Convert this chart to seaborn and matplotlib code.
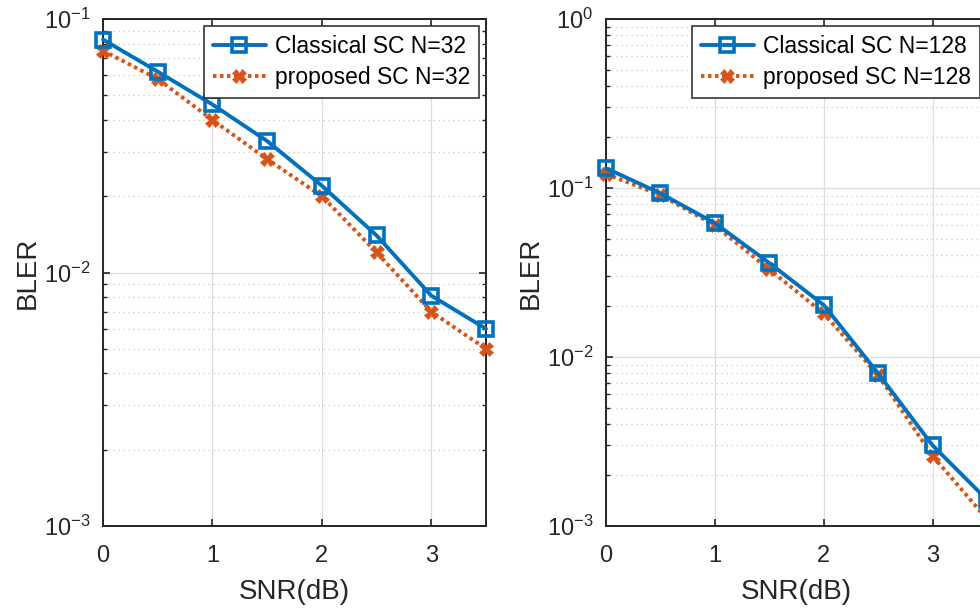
import numpy as np
import pandas as pd
import matplotlib
matplotlib.use("Agg")
import matplotlib.pyplot as plt
import seaborn as sns
from matplotlib.ticker import LogLocator, FixedLocator

# BLER curves
snr = [0, 0.5, 1, 1.5, 2, 2.5, 3, 3.5]
classical_32 = [0.083, 0.062, 0.046, 0.033, 0.022, 0.014, 0.0081, 0.006]
proposed_32 = [0.075, 0.058, 0.040, 0.028, 0.020, 0.012, 0.0070, 0.005]
classical_128 = [0.131, 0.093, 0.062, 0.036, 0.0203, 0.0080, 0.0030, 0.00143]
proposed_128 = [0.121, 0.091, 0.060, 0.033, 0.0181, 0.0078, 0.0026, 0.0011]

blue = "#0072BD"
orange = "#D95319"
axcol = "#262626"

sns.set_style("ticks")
plt.rcParams["font.family"] = ["Liberation Sans", "DejaVu Sans"]
plt.rcParams["mathtext.fontset"] = "custom"
plt.rcParams["mathtext.rm"] = "Liberation Sans"
plt.rcParams["axes.unicode_minus"] = False

fig = plt.figure(figsize=(9.8, 6.08), dpi=100)
ax1 = fig.add_axes([103 / 980, 82 / 608, 383 / 980, 507 / 608])
ax2 = fig.add_axes([606 / 980, 82 / 608, 381 / 980, 507 / 608])


def draw(ax, cls, prop, n, ylim):
    df = pd.DataFrame({"SNR": snr, "cls": cls, "prop": prop})
    sns.lineplot(data=df, x="SNR", y="cls", ax=ax, color=blue, lw=2.8,
                 marker="s", markersize=9.5, mfc="none", mec=blue, mew=2.6,
                 label=f"Classical SC N={n}", clip_on=False, zorder=4)
    sns.lineplot(data=df, x="SNR", y="prop", ax=ax, color=orange, lw=2.8,
                 linestyle=(0, (0.9, 0.9)), marker="X", markersize=10,
                 mfc=orange, mec=orange, mew=0.5,
                 label=f"proposed SC N={n}", clip_on=False, zorder=3)
    ax.set_yscale("log")
    ax.set_xlim(0, 3.5)
    ax.set_ylim(*ylim)
    ax.xaxis.set_major_locator(FixedLocator([0, 1, 2, 3]))
    ax.yaxis.set_major_locator(LogLocator(base=10, numticks=10))
    ax.yaxis.set_minor_locator(LogLocator(base=10, subs=np.arange(2, 10), numticks=20))
    ax.grid(True, which="major", color="#dcdcdc", lw=0.9, ls="-")
    ax.grid(True, which="minor", axis="y", color="#c8c8c8", lw=0.9, ls=(0, (1, 3)))
    ax.tick_params(which="both", direction="in", top=True, right=True,
                   colors=axcol, labelsize=17)
    ax.tick_params(axis="x", pad=14)
    ax.tick_params(axis="y", pad=9)
    ax.tick_params(which="major", length=5, width=1.2)
    ax.tick_params(which="minor", length=3, width=1)
    for s in ax.spines.values():
        s.set_color(axcol)
        s.set_linewidth(1.4)
    ax.set_xlabel("SNR(dB)", fontsize=20, color=axcol, labelpad=8)
    ax.set_ylabel("BLER", fontsize=20, color=axcol, labelpad=2)
    leg = ax.legend(loc="upper right", fontsize=16.5, frameon=True, fancybox=False,
                    edgecolor=axcol, framealpha=1, handlelength=2.3,
                    handletextpad=0.4, borderpad=0.4, labelspacing=0.35,
                    borderaxespad=0.3)
    leg.get_frame().set_linewidth(1.1)
    for t in leg.get_texts():
        t.set_color("black")


draw(ax1, classical_32, proposed_32, 32, (1e-3, 1e-1))
draw(ax2, classical_128, proposed_128, 128, (1e-3, 1e0))

fig.savefig("out.png", dpi=100)
